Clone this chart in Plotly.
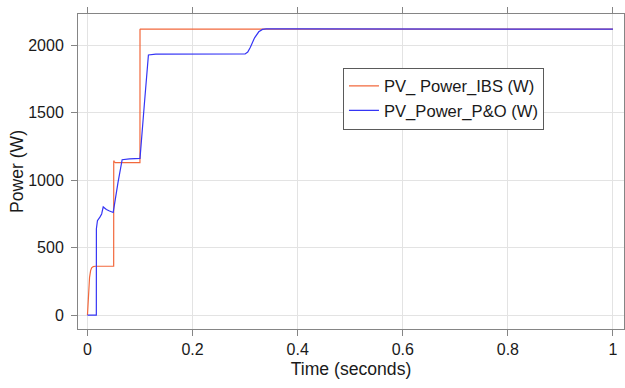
import plotly.graph_objects as go

# IBS series
t_ibs = [0, 0.002, 0.004, 0.006, 0.008, 0.011, 0.015, 0.0499, 0.05, 0.051, 0.053, 0.0999, 0.1, 0.1005, 1.0]
p_ibs = [0, 190, 280, 330, 350, 360, 362, 362, 1145, 1138, 1130, 1130, 2118, 2120, 2120]

# P&O series
t_po = [0, 0.0169, 0.017, 0.019, 0.024, 0.027, 0.030, 0.036, 0.042, 0.049, 0.058, 0.066, 0.080, 0.1,
        0.108, 0.116, 0.13, 0.2, 0.30, 0.305, 0.31, 0.318, 0.326, 0.333, 0.34, 0.4, 1.0]
p_po = [0, 0, 640, 700, 728, 750, 802, 783, 772, 761, 980, 1152, 1158, 1162,
        1550, 1928, 1935, 1935, 1936, 1950, 1985, 2055, 2100, 2118, 2122, 2121, 2120]

x_ticks = [0, 0.2, 0.4, 0.6, 0.8, 1]
x_labels = ["0", "0.2", "0.4", "0.6", "0.8", "1"]
y_ticks = [0, 500, 1000, 1500, 2000]

FONT = "Liberation Sans, Arial, sans-serif"
TXT = "#1a1a1a"

fig = go.Figure()
fig.add_trace(go.Scatter(x=t_ibs, y=p_ibs, mode="lines", name="PV_ Power_IBS (W)",
                         line=dict(color="#F2683C", width=1.2)))
fig.add_trace(go.Scatter(x=t_po, y=p_po, mode="lines", name="PV_Power_P&O (W)",
                         line=dict(color="#3535F5", width=1.2)))

axis_common = dict(showline=True, linecolor="#858585", linewidth=1, mirror="ticks",
                   ticks="outside", ticklen=6, tickcolor="#858585",
                   showgrid=True, gridcolor="#E3E3E3", gridwidth=1, zeroline=False,
                   tickfont=dict(family=FONT, size=16, color=TXT))

fig.update_xaxes(range=[-0.018, 1.021], tickvals=x_ticks, ticktext=x_labels,
                 title=dict(text="Time (seconds)", standoff=5,
                            font=dict(family=FONT, size=17.6, color=TXT)),
                 **axis_common)
fig.update_yaxes(range=[-103, 2232], tickvals=y_ticks, ticklabelstandoff=4,
                 title=dict(text="Power (W)", standoff=0,
                            font=dict(family=FONT, size=17.6, color=TXT)),
                 **axis_common)

fig.update_layout(
    width=625, height=388,
    margin=dict(l=78, r=1, t=14, b=59, autoexpand=False),
    paper_bgcolor="white", plot_bgcolor="white",
    showlegend=True,
    legend=dict(x=0.4853, y=0.83, xanchor="left", yanchor="top",
                bgcolor="white", bordercolor="#5a5a5a", borderwidth=1,
                font=dict(family=FONT, size=16.6, color=TXT),
                tracegroupgap=0, itemwidth=30),
)

fig.write_html("out.html")
